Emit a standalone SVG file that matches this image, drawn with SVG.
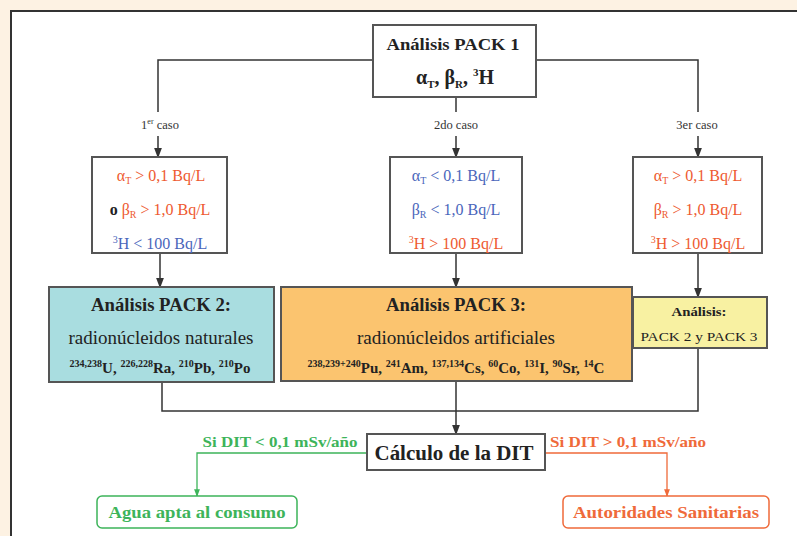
<svg xmlns="http://www.w3.org/2000/svg" width="797" height="536" viewBox="0 0 797 536" font-family="'Liberation Serif','DejaVu Serif',serif">
<style>
text{font-family:"Liberation Serif","Times New Roman","DejaVu Serif",serif;text-anchor:middle}
.box{stroke:#555;stroke-width:2}
.b{font-weight:bold}
.red{fill:#ee5a30}
.blue{fill:#4a66bb}
.blk{fill:#222}
.lab{font-size:12.5px;fill:#333}
.cond{font-size:16px}
.ln{stroke:#333;stroke-width:1.5;fill:none}
.g{stroke:#3db45a;stroke-width:1.3;fill:none}
.o{stroke:#ef6a3a;stroke-width:1.3;fill:none}
.sup{font-size:10px}
</style>
<defs>
<marker id="ak" viewBox="0 0 8 8" refX="7" refY="4" markerWidth="7" markerHeight="7" orient="auto"><path d="M0,1 L8,4 L0,7 z" fill="#333"/></marker>
<marker id="ag" viewBox="0 0 8 8" refX="7" refY="4" markerWidth="6" markerHeight="6" orient="auto"><path d="M0,1 L8,4 L0,7 z" fill="#3db45a"/></marker>
<marker id="ao" viewBox="0 0 8 8" refX="7" refY="4" markerWidth="6" markerHeight="6" orient="auto"><path d="M0,1 L8,4 L0,7 z" fill="#ef6a3a"/></marker>
</defs>
<rect x="0" y="0" width="797" height="536" fill="#fdf2e3"/>
<rect x="11" y="11" width="800" height="540" fill="#fff" stroke="#333" stroke-width="2"/>

<g id="connectors">
<path class="ln" d="M373,60 H158 V112"/>
<path class="ln" d="M536,60 H698 V112"/>
<path class="ln" d="M456,97 V112"/>
<path class="ln" d="M158,136 V157" marker-end="url(#ak)"/>
<path class="ln" d="M456,136 V157" marker-end="url(#ak)"/>
<path class="ln" d="M698,136 V157" marker-end="url(#ak)"/>
<path class="ln" d="M160,253 V287" marker-end="url(#ak)"/>
<path class="ln" d="M456,253 V287" marker-end="url(#ak)"/>
<path class="ln" d="M698,253 V297" marker-end="url(#ak)"/>
<path class="ln" d="M162,382 V411 H698 V348"/>
<path class="ln" d="M456,381 V434" marker-end="url(#ak)"/>
<path class="g" d="M367,453 H197 V496" marker-end="url(#ag)"/>
<path class="o" d="M545,453 H667 V496" marker-end="url(#ao)"/>
<text class="lab" x="160" y="129">1<tspan dy="-5" font-size="8">er</tspan><tspan dy="5"> caso</tspan></text>
<text class="lab" x="456" y="129">2do caso</text>
<text class="lab" x="697" y="129">3er caso</text>
<text x="280" y="447" font-size="14" font-weight="bold" fill="#3db45a" textLength="155" lengthAdjust="spacingAndGlyphs">Si DIT &lt; 0,1 mSv/año</text>
<text x="628" y="447" font-size="14" font-weight="bold" fill="#ef6a3a" textLength="156" lengthAdjust="spacingAndGlyphs">Si DIT &gt; 0,1 mSv/año</text>
</g>

<g id="pack1">
<rect class="box" x="373" y="25" width="163" height="72" fill="#fff"/>
<text class="b blk" x="453" y="50" font-size="17" textLength="133" lengthAdjust="spacingAndGlyphs">Análisis PACK 1</text>
<text class="b blk" x="455" y="84" font-size="20">α<tspan font-size="11" dy="4">T</tspan><tspan dy="-4">, β</tspan><tspan font-size="11" dy="4">R</tspan><tspan dy="-4">, </tspan><tspan font-size="11" dy="-8">3</tspan><tspan dy="8">H</tspan></text>
</g>

<g id="case1">
<rect class="box" x="92" y="157" width="135" height="96" fill="#fff"/>
<text class="cond red" x="161" y="181">α<tspan font-size="10" dy="3">T</tspan><tspan dy="-3"> &gt; 0,1 Bq/L</tspan></text>
<text class="cond red" x="160" y="215"><tspan class="blk b">o </tspan>β<tspan font-size="10" dy="3">R</tspan><tspan dy="-3"> &gt; 1,0 Bq/L</tspan></text>
<text class="cond blue" x="160" y="249"><tspan font-size="10" dy="-6">3</tspan><tspan dy="6">H &lt; 100 Bq/L</tspan></text>
</g>

<g id="case2">
<rect class="box" x="390" y="157" width="132" height="96" fill="#fff"/>
<text class="cond blue" x="456" y="181">α<tspan font-size="10" dy="3">T</tspan><tspan dy="-3"> &lt; 0,1 Bq/L</tspan></text>
<text class="cond blue" x="456" y="215">β<tspan font-size="10" dy="3">R</tspan><tspan dy="-3"> &lt; 1,0 Bq/L</tspan></text>
<text class="cond red" x="456" y="249"><tspan font-size="10" dy="-6">3</tspan><tspan dy="6">H &gt; 100 Bq/L</tspan></text>
</g>

<g id="case3">
<rect class="box" x="633" y="157" width="129" height="96" fill="#fff"/>
<text class="cond red" x="698" y="181">α<tspan font-size="10" dy="3">T</tspan><tspan dy="-3"> &gt; 0,1 Bq/L</tspan></text>
<text class="cond red" x="698" y="215">β<tspan font-size="10" dy="3">R</tspan><tspan dy="-3"> &gt; 1,0 Bq/L</tspan></text>
<text class="cond red" x="698" y="249"><tspan font-size="10" dy="-6">3</tspan><tspan dy="6">H &gt; 100 Bq/L</tspan></text>
</g>

<g id="pack2">
<rect class="box" x="49" y="287" width="225" height="95" fill="#a9dde0"/>
<text class="b blk" x="161" y="311" font-size="18" textLength="140" lengthAdjust="spacingAndGlyphs">Análisis PACK 2:</text>
<text class="blk" x="161" y="344" font-size="18" textLength="185" lengthAdjust="spacingAndGlyphs">radionúcleidos naturales</text>
<text class="b blk" x="160" y="373" font-size="15"><tspan class="sup" dy="-6">234,238</tspan><tspan dy="6">U, </tspan><tspan class="sup" dy="-6">226,228</tspan><tspan dy="6">Ra, </tspan><tspan class="sup" dy="-6">210</tspan><tspan dy="6">Pb, </tspan><tspan class="sup" dy="-6">210</tspan><tspan dy="6">Po</tspan></text>
</g>

<g id="pack3">
<rect class="box" x="281" y="287" width="351" height="94" fill="#fbc46f"/>
<text class="b blk" x="456" y="311" font-size="18" textLength="140" lengthAdjust="spacingAndGlyphs">Análisis PACK 3:</text>
<text class="blk" x="456" y="344" font-size="18" textLength="198" lengthAdjust="spacingAndGlyphs">radionúcleidos artificiales</text>
<text class="b blk" x="456" y="373" font-size="15"><tspan class="sup" dy="-6">238,239+240</tspan><tspan dy="6">Pu, </tspan><tspan class="sup" dy="-6">241</tspan><tspan dy="6">Am, </tspan><tspan class="sup" dy="-6">137,134</tspan><tspan dy="6">Cs, </tspan><tspan class="sup" dy="-6">60</tspan><tspan dy="6">Co, </tspan><tspan class="sup" dy="-6">131</tspan><tspan dy="6">I, </tspan><tspan class="sup" dy="-6">90</tspan><tspan dy="6">Sr, </tspan><tspan class="sup" dy="-6">14</tspan><tspan dy="6">C</tspan></text>
</g>

<g id="pack23">
<rect class="box" x="633" y="297" width="134" height="51" fill="#f8f1a2"/>
<text class="b blk" x="699" y="316" font-size="12" textLength="55" lengthAdjust="spacingAndGlyphs">Análisis:</text>
<text class="blk" x="699" y="341" font-size="13" textLength="117" lengthAdjust="spacingAndGlyphs">PACK 2 y PACK 3</text>
</g>

<g id="calculo">
<rect class="box" x="367" y="434" width="178" height="36" fill="#fff"/>
<text class="b blk" x="454" y="460" font-size="20" textLength="159" lengthAdjust="spacingAndGlyphs">Cálculo de la DIT</text>
</g>

<g id="agua">
<rect x="97" y="496" width="200" height="32" rx="5" fill="#fff" stroke="#3db45a" stroke-width="1.5"/>
<text class="b" x="197" y="518" font-size="17" fill="#3db45a" textLength="177" lengthAdjust="spacingAndGlyphs">Agua apta al consumo</text>
</g>

<g id="autoridades">
<rect x="563" y="496" width="206" height="32" rx="5" fill="#fff" stroke="#ef6a3a" stroke-width="1.5"/>
<text class="b" x="666" y="518" font-size="17" fill="#ef6a3a" textLength="186" lengthAdjust="spacingAndGlyphs">Autoridades Sanitarias</text>
</g>
</svg>
